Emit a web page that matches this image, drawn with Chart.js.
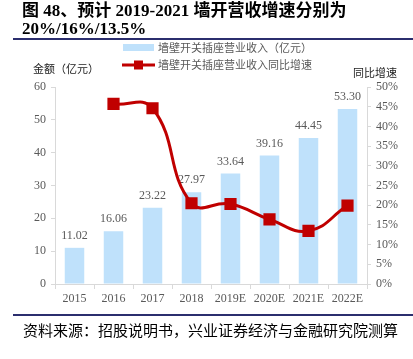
<!DOCTYPE html>
<html><head><meta charset="utf-8">
<script src="https://cdn.jsdelivr.net/npm/chart.js@4/dist/chart.umd.min.js"></script>
<style>
html,body{margin:0;padding:0;background:#fff;width:413px;height:359px;overflow:hidden;}
#wrap{position:relative;width:413px;height:359px;}
#title{position:absolute;left:22px;top:2px;font:bold 17px "Liberation Serif","Noto Sans CJK SC",serif;line-height:17px;color:#000;}
#t2{position:absolute;left:0;top:18px;white-space:nowrap;}
#hr1{position:absolute;left:13px;right:0;top:38px;height:2px;background:#2b2e6e;}
#hr2{position:absolute;left:13px;right:0;top:314px;height:2px;background:#2b2e6e;}
#foot{position:absolute;left:23px;top:321px;font:15px "Noto Sans CJK SC",sans-serif;line-height:18px;color:#000;white-space:nowrap;}
canvas{position:absolute;left:0;top:0;}
</style></head><body>
<div id="wrap">
<canvas id="c" width="413" height="359"></canvas>
<div id="title"><span style="white-space:nowrap">图 48、预计 2019-2021 墙开营收增速分别为</span><span id="t2">20%/16%/13.5%</span></div>
<div id="hr1"></div>
<div id="hr2"></div>
<div id="foot">资料来源：招股说明书，兴业证券经济与金融研究院测算</div>
</div>
<script>
const categories = ["2015","2016","2017","2018","2019E","2020E","2021E","2022E"];
const revenue = [11.02,16.06,23.22,27.97,33.64,39.16,44.45,53.30];
const growth = [null,45.7,44.6,20.5,20.3,16.4,13.5,19.9];
const revenueName = "墙壁开关插座营业收入（亿元）";
const growthName = "墙壁开关插座营业收入同比增速";
const leftTitle = "金额（亿元）";
const rightTitle = "同比增速";

const BAR = "#bfe1fb", LINE = "#c00000", GREY = "#595959", AXIS = "#d9d9d9";
const serif = '"Liberation Serif","Times New Roman",serif';
const cjk = '"Noto Sans CJK SC",sans-serif';

const extras = {
  id: "extras",
  afterDatasetDraw(chart, args) {
    if (args.index !== 0) return;
    const ctx = chart.ctx;
    ctx.save();
    ctx.font = "12px " + serif;
    ctx.fillStyle = GREY;
    ctx.textAlign = "center";
    ctx.textBaseline = "bottom";
    args.meta.data.forEach((el, i) => {
      ctx.fillText(revenue[i].toFixed(2), el.x, el.y - 6);
    });
    ctx.restore();
  },
  afterDraw(chart) {
    const ctx = chart.ctx;
    ctx.save();
    // legend
    ctx.fillStyle = BAR;
    ctx.fillRect(123, 44, 31, 7);
    ctx.strokeStyle = LINE; ctx.lineWidth = 3;
    ctx.beginPath(); ctx.moveTo(122, 65); ctx.lineTo(155, 65); ctx.stroke();
    ctx.fillStyle = LINE; ctx.fillRect(134, 60.5, 9, 9);
    ctx.font = "11px " + cjk;
    ctx.fillStyle = GREY; ctx.textBaseline = "middle"; ctx.textAlign = "left";
    ctx.fillText(revenueName, 158, 48);
    ctx.fillText(growthName, 158, 65);
    // axis titles
    ctx.fillStyle = "#222";
    ctx.fillText(leftTitle, 33, 69);
    ctx.fillText(rightTitle, 353, 73);
    ctx.restore();
  }
};

new Chart(document.getElementById("c"), {
  type: "bar",
  data: {
    labels: categories,
    datasets: [
      { type: "bar", label: revenueName, data: revenue, backgroundColor: BAR, yAxisID: "y",
        barPercentage: 0.5, categoryPercentage: 1, order: 2 },
      { type: "line", label: growthName, data: growth, yAxisID: "y1", borderColor: LINE,
        backgroundColor: LINE, borderWidth: 3, pointStyle: "rect", pointRadius: 6.5,
        pointHoverRadius: 6.5, tension: 0.45, order: 1 }
    ]
  },
  options: {
    responsive: false, animation: false,
    layout: { padding: { top: 87, left: 0, right: 0, bottom: 0 } },
    plugins: { legend: { display: false }, tooltip: { enabled: false } },
    scales: {
      x: {
        grid: { display: true, drawOnChartArea: false, drawTicks: true, tickLength: 5, color: AXIS, offset: true },
        border: { color: AXIS },
        ticks: { color: GREY, font: { family: serif, size: 12 }, padding: 3, maxRotation: 0 },
        afterFit(s) { s.height = 75; }
      },
      y: {
        position: "left", min: 0, max: 60,
        ticks: { stepSize: 10, color: GREY, font: { family: serif, size: 12 }, padding: 5 },
        grid: { drawOnChartArea: false, tickLength: 4, color: AXIS },
        border: { color: AXIS },
        afterFit(s) { s.width = 55; }
      },
      y1: {
        position: "right", min: 0, max: 50,
        ticks: { stepSize: 5, color: GREY, font: { family: serif, size: 12 }, padding: 5,
                 callback: v => v + "%" },
        grid: { drawOnChartArea: false, tickLength: 4, color: AXIS },
        border: { color: AXIS },
        afterFit(s) { s.width = 46; }
      }
    }
  },
  plugins: [extras]
});
</script>
</body></html>
